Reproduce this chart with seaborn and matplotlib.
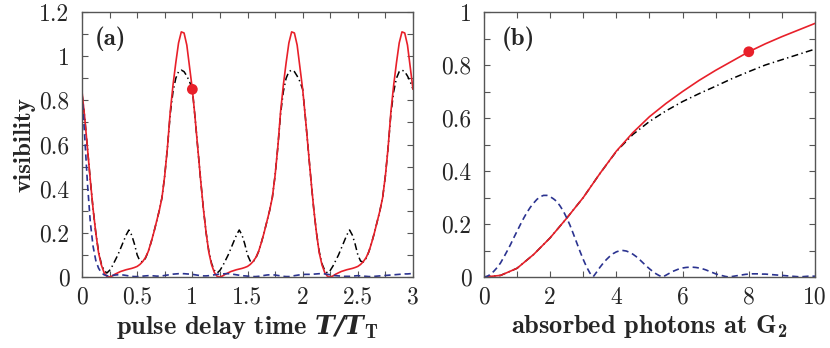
import matplotlib
matplotlib.use("Agg")
import matplotlib.pyplot as plt
import numpy as np
import pandas as pd
import seaborn as sns
from matplotlib.ticker import MultipleLocator, FormatStrFormatter

# panel (a): visibility vs pulse delay, sampled every 0.025 T_T
delay = np.linspace(0.0, 3.0, 121)
vis_red_a = [
    0.84, 0.72, 0.58, 0.44, 0.31, 0.20, 0.11, 0.055, 0.02, 0.003,
    0.0, 0.005, 0.013, 0.019, 0.025, 0.029, 0.033, 0.036, 0.039, 0.043,
    0.048, 0.057, 0.07, 0.088, 0.115, 0.155, 0.20, 0.25, 0.30, 0.36,
    0.46, 0.59, 0.75, 0.87, 0.97, 1.06, 1.11, 1.105, 1.05, 0.95,
    0.85, 0.72, 0.58, 0.44, 0.31, 0.20, 0.11, 0.055, 0.02, 0.003,
    0.0, 0.005, 0.013, 0.019, 0.025, 0.029, 0.033, 0.036, 0.039, 0.043,
    0.048, 0.057, 0.07, 0.088, 0.115, 0.155, 0.20, 0.25, 0.30, 0.36,
    0.46, 0.59, 0.75, 0.87, 0.97, 1.06, 1.11, 1.105, 1.05, 0.95,
    0.85, 0.72, 0.58, 0.44, 0.31, 0.20, 0.11, 0.055, 0.02, 0.003,
    0.0, 0.005, 0.013, 0.019, 0.025, 0.029, 0.033, 0.036, 0.039, 0.043,
    0.048, 0.057, 0.07, 0.088, 0.115, 0.155, 0.20, 0.25, 0.30, 0.36,
    0.46, 0.59, 0.75, 0.87, 0.97, 1.06, 1.11, 1.105, 1.05, 0.95,
    0.85,
]
vis_black_a = [
    0.83, 0.72, 0.58, 0.44, 0.31, 0.20, 0.115, 0.06, 0.03, 0.018,
    0.03, 0.05, 0.075, 0.10, 0.13, 0.16, 0.19, 0.213, 0.19, 0.15,
    0.10, 0.072, 0.068, 0.085, 0.115, 0.155, 0.20, 0.25, 0.30, 0.36,
    0.46, 0.59, 0.74, 0.84, 0.90, 0.93, 0.937, 0.93, 0.91, 0.885,
    0.85, 0.72, 0.58, 0.44, 0.31, 0.20, 0.115, 0.06, 0.03, 0.018,
    0.03, 0.05, 0.075, 0.10, 0.13, 0.16, 0.19, 0.213, 0.19, 0.15,
    0.10, 0.072, 0.068, 0.085, 0.115, 0.155, 0.20, 0.25, 0.30, 0.36,
    0.46, 0.59, 0.74, 0.84, 0.90, 0.93, 0.937, 0.93, 0.91, 0.885,
    0.85, 0.72, 0.58, 0.44, 0.31, 0.20, 0.115, 0.06, 0.03, 0.018,
    0.03, 0.05, 0.075, 0.10, 0.13, 0.16, 0.19, 0.213, 0.19, 0.15,
    0.10, 0.072, 0.068, 0.085, 0.115, 0.155, 0.20, 0.25, 0.30, 0.36,
    0.46, 0.59, 0.74, 0.84, 0.90, 0.93, 0.937, 0.93, 0.91, 0.885,
    0.85,
]
vis_blue_a = [
    0.83, 0.63, 0.42, 0.25, 0.14, 0.075, 0.04, 0.02, 0.01, 0.006,
    0.005, 0.007, 0.009, 0.01, 0.01, 0.009, 0.007, 0.005, 0.003, 0.002,
    0.002, 0.003, 0.004, 0.005, 0.006, 0.006, 0.005, 0.004, 0.004, 0.005,
    0.007, 0.009, 0.011, 0.013, 0.014, 0.015, 0.015, 0.015, 0.014, 0.013,
    0.012, 0.01, 0.008, 0.006, 0.005, 0.005, 0.006, 0.008, 0.01, 0.012,
    0.013, 0.014, 0.015, 0.015, 0.014, 0.012, 0.01, 0.008, 0.006, 0.005,
    0.004, 0.003, 0.002, 0.002, 0.003, 0.005, 0.007, 0.009, 0.01, 0.01,
    0.009, 0.007, 0.005, 0.003, 0.002, 0.002, 0.004, 0.006, 0.008, 0.01,
    0.011, 0.012, 0.012, 0.012, 0.013, 0.014, 0.015, 0.015, 0.014, 0.012,
    0.01, 0.008, 0.006, 0.005, 0.004, 0.003, 0.003, 0.003, 0.004, 0.005,
    0.006, 0.005, 0.004, 0.003, 0.002, 0.002, 0.003, 0.004, 0.005, 0.006,
    0.007, 0.008, 0.009, 0.01, 0.011, 0.012, 0.013, 0.014, 0.014, 0.015,
    0.015,
]
dot_a_x = [1.0]
dot_a_y = [0.85]

# panel (b): visibility vs absorbed photons
photons = [0.0, 0.5, 1.0, 1.5, 2.0, 2.5, 3.0, 3.5, 4.0, 4.5, 5.0,
           5.5, 6.0, 6.5, 7.0, 7.5, 8.0, 8.5, 9.0, 9.5, 10.0]
vis_red_b = [0.0, 0.006, 0.033, 0.085, 0.148, 0.222, 0.30, 0.39, 0.475, 0.545, 0.605,
             0.655, 0.70, 0.742, 0.78, 0.815, 0.85, 0.88, 0.907, 0.932, 0.957]
vis_black_b = [0.0, 0.006, 0.033, 0.085, 0.148, 0.222, 0.30, 0.39, 0.474, 0.538, 0.587,
               0.627, 0.662, 0.692, 0.72, 0.749, 0.775, 0.80, 0.82, 0.84, 0.86]
photons_fine = np.linspace(0.0, 10.0, 101)
vis_blue_b = [
    0.0, 0.003, 0.01, 0.022, 0.036, 0.053, 0.075, 0.098, 0.122, 0.148,
    0.173, 0.198, 0.222, 0.244, 0.263, 0.279, 0.293, 0.303, 0.308, 0.308,
    0.303, 0.295, 0.285, 0.268, 0.248, 0.223, 0.195, 0.163, 0.13, 0.097,
    0.066, 0.038, 0.015, 0.001, 0.018, 0.036, 0.052, 0.066, 0.078, 0.088,
    0.095, 0.099, 0.10, 0.098, 0.093, 0.086, 0.077, 0.066, 0.054, 0.042,
    0.031, 0.021, 0.012, 0.005, 0.0, 0.007, 0.014, 0.021, 0.026, 0.031,
    0.034, 0.036, 0.037, 0.037, 0.036, 0.034, 0.031, 0.027, 0.022, 0.017,
    0.012, 0.008, 0.005, 0.002, 0.0, 0.002, 0.004, 0.006, 0.008, 0.01,
    0.011, 0.012, 0.012, 0.012, 0.011, 0.011, 0.01, 0.009, 0.008, 0.007,
    0.006, 0.005, 0.004, 0.003, 0.002, 0.001, 0.001, 0.002, 0.003, 0.003,
    0.003,
]
dot_b_x = [8.0]
dot_b_y = [0.85]

RED = "#e8202a"
BLUE = "#2b3390"
FRAME = "#555555"
DASHDOT = (0, (5.0, 2.4, 1.0, 2.4))
DASHED = (0, (4.5, 2.8))


def style_axes(ax, xmaj, xmin, ymaj, ymin):
    ax.xaxis.set_major_locator(MultipleLocator(xmaj))
    ax.xaxis.set_minor_locator(MultipleLocator(xmin))
    ax.yaxis.set_major_locator(MultipleLocator(ymaj))
    ax.yaxis.set_minor_locator(MultipleLocator(ymin))
    ax.xaxis.set_major_formatter(FormatStrFormatter("%g"))
    ax.yaxis.set_major_formatter(FormatStrFormatter("%g"))
    ax.tick_params(which="both", direction="in", top=True, right=True,
                   length=4, width=0.8, color=FRAME, labelsize=17)
    ax.tick_params(axis="x", which="major", pad=7)
    ax.tick_params(axis="y", which="major", pad=9)
    for spine in ax.spines.values():
        spine.set_color(FRAME)
        spine.set_linewidth(1.0)
        spine.set_visible(True)
    ax.grid(False)


def main() -> None:
    sns.set_theme(style="ticks")
    plt.rcParams["font.family"] = ["cmr10", "DejaVu Serif"]
    plt.rcParams["mathtext.fontset"] = "custom"
    plt.rcParams["mathtext.rm"] = "cmr10"
    plt.rcParams["mathtext.it"] = "cmmi10"
    plt.rcParams["mathtext.bf"] = "cmb10"
    plt.rcParams["mathtext.bfit"] = "DejaVu Serif:italic:bold"
    plt.rcParams["axes.formatter.use_mathtext"] = True
    plt.rcParams["axes.unicode_minus"] = False
    plt.rcParams["lines.scale_dashes"] = False

    df_a = pd.DataFrame({"delay": delay, "red": vis_red_a,
                         "black": vis_black_a, "blue": vis_blue_a})
    df_b = pd.DataFrame({"photons": photons, "red": vis_red_b, "black": vis_black_b})
    df_b_blue = pd.DataFrame({"photons": photons_fine, "blue": vis_blue_b})

    fig = plt.figure(figsize=(8.3, 3.48), dpi=100)
    ax_a = fig.add_axes([0.0988, 0.204, 0.3988, 0.7615])
    ax_b = fig.add_axes([0.5831, 0.204, 0.3988, 0.7615])

    # (a)
    sns.lineplot(data=df_a, x="delay", y="black", color="black", lw=1.1,
                 linestyle=DASHDOT, estimator=None, sort=False, ax=ax_a)
    sns.lineplot(data=df_a, x="delay", y="red", color=RED, lw=1.2,
                 estimator=None, sort=False, ax=ax_a)
    sns.lineplot(data=df_a, x="delay", y="blue", color=BLUE, lw=1.2,
                 linestyle=DASHED, estimator=None, sort=False, ax=ax_a)
    sns.scatterplot(x=dot_a_x, y=dot_a_y, color=RED, s=60, edgecolor="none",
                    zorder=5, ax=ax_a)
    ax_a.set_xlim(0, 3)
    ax_a.set_ylim(0, 1.2)
    style_axes(ax_a, 0.5, 0.25, 0.2, 0.1)
    ax_a.set_xlabel(r"pulse delay time $\mathbfit{T/T}_{\mathbf{T}}$",
                    fontfamily="cmb10", fontsize=19, labelpad=3)
    ax_a.set_ylabel("visibility", fontfamily="cmb10", fontsize=18, labelpad=3)
    ax_a.text(0.04, 0.945, "(a)", transform=ax_a.transAxes, fontfamily="cmb10",
              fontsize=18, va="top", ha="left")

    # (b)
    sns.lineplot(data=df_b, x="photons", y="black", color="black", lw=1.1,
                 linestyle=DASHDOT, estimator=None, sort=False, ax=ax_b)
    sns.lineplot(data=df_b, x="photons", y="red", color=RED, lw=1.2,
                 estimator=None, sort=False, ax=ax_b)
    sns.lineplot(data=df_b_blue, x="photons", y="blue", color=BLUE, lw=1.2,
                 linestyle=DASHED, estimator=None, sort=False, ax=ax_b)
    sns.scatterplot(x=dot_b_x, y=dot_b_y, color=RED, s=60, edgecolor="none",
                    zorder=5, ax=ax_b)
    ax_b.set_xlim(0, 10)
    ax_b.set_ylim(0, 1.0)
    style_axes(ax_b, 2, 1, 0.2, 0.1)
    ax_b.set_xlabel(r"absorbed photons at $\mathbf{G}_{\mathbf{2}}$",
                    fontfamily="cmb10", fontsize=19, labelpad=3)
    ax_b.set_ylabel("")
    ax_b.text(0.054, 0.945, "(b)", transform=ax_b.transAxes, fontfamily="cmb10",
              fontsize=18, va="top", ha="left")

    fig.savefig("out.png", dpi=100)
    plt.close(fig)


if __name__ == "__main__":
    main()
